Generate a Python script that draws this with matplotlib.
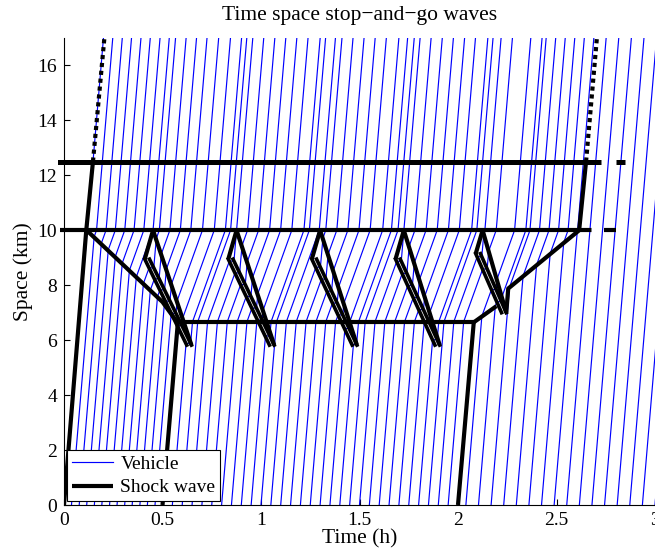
import numpy as np
import matplotlib.pyplot as plt

plt.rcParams['font.family'] = ['Liberation Serif', 'DejaVu Serif']

# vehicle entry times at the upstream end, s = 0 (h)
entry_a = [0.000, 0.038, 0.077, 0.115, 0.154, 0.192, 0.231, 0.269, 0.308,
           0.346, 0.385, 0.423, 0.462]
entry_b = [0.50, 0.55, 0.60, 0.65, 0.70, 0.75, 0.80, 0.85, 0.90, 0.95,
           1.00, 1.05, 1.10, 1.15, 1.20, 1.25, 1.30, 1.35, 1.40, 1.45,
           1.50, 1.55, 1.60, 1.65, 1.70, 1.75, 1.80, 1.85, 1.90, 1.95]
entry_c = [2.040, 2.104, 2.168, 2.232, 2.296, 2.360, 2.424, 2.488, 2.552,
           2.616, 2.680, 2.744, 2.808, 2.872, 2.936, 3.000]

v_free = 85.0    # km/h
v_queue = 20.0   # km/h inside the congested area
bottleneck_s = 10.0

# congested area
queue_left_t = [0.575, 0.50, 0.115]
queue_left_s = [6.65, 7.39, 10.0]
queue_bottom_s = 6.65
queue_right_t = [2.08, 2.19, 2.255, 2.615]
queue_right_s = [6.65, 7.22, 7.88, 10.0]
# queue tail drawn as two pieces around the last wave
tail_low_t = [2.08, 2.195]
tail_low_s = [6.65, 7.24]
tail_up_t = [2.245, 2.255, 2.615]
tail_up_s = [7.00, 7.88, 10.0]

# stop-and-go waves: top vertex (on s=10), left vertex, bottom vertex
wave_top_t = [0.452, 0.876, 1.300, 1.725, 2.125]
wave_left_t = [0.410, 0.834, 1.258, 1.683, 2.090]
wave_left_s = [8.95, 8.95, 8.95, 8.95, 9.15]
wave_bot_t = [0.647, 1.067, 1.487, 1.907, 2.245]
wave_bot_s = [5.82, 5.82, 5.82, 5.82, 7.00]
band_w = 0.024

# other shock waves
lead_t = [0.0, 0.113, 0.147]
lead_s = [0.0, 10.0, 12.5]
lead_dot_t = [0.147, 0.205]
lead_dot_s = [12.5, 17.0]
last_t = [2.615, 2.650]
last_s = [10.0, 12.5]
last_dot_t = [2.650, 2.705]
last_dot_s = [12.5, 17.0]
demand1_t = [0.500, 0.578]
demand1_s = [0.0, 6.65]
demand2_t = [2.000, 2.080]
demand2_s = [0.0, 6.65]
line10_t = [-0.02, 2.615]
line10_dash_t = [2.615, 2.80]
line125_t = [-0.02, 2.650]
line125_dash_t = [2.650, 2.85]


def speed(t, s):
    v = np.full_like(s, v_free)
    tl = np.interp(s, queue_left_s, queue_left_t)
    tr = np.interp(s, queue_right_s, queue_right_t)
    inq = (s >= queue_bottom_s) & (s < bottleneck_s) & (t >= tl) & (t <= tr)
    v[inq] = v_queue
    for k in range(len(wave_top_t)):
        tt, tlk, slk = wave_top_t[k], wave_left_t[k], wave_left_s[k]
        tb, sb = wave_bot_t[k], wave_bot_s[k]
        edge = tt + (bottleneck_s - s) / (bottleneck_s - sb) * (tb - tt)
        frac = (slk - s) / (slk - sb)
        b_left = tlk + frac * (tb - band_w - tlk)
        b_right = b_left + band_w
        low = (s >= sb) & (s < slk)
        band = low & (t >= b_left) & (t < b_right)
        inner = low & (t >= b_right) & (t < edge)
        t_tl = tt - (bottleneck_s - s) / (bottleneck_s - slk) * (tt - tlk)
        upper = (s >= slk) & (s < bottleneck_s) & (t > t_tl) & (t < edge)
        v[inner | upper] = v_free
        v[band] = 0.0
    return v


t0 = np.array(entry_a + entry_b + entry_c)
dt = 0.0004
tgrid = np.arange(0, 3.06, dt)
pos = np.zeros(len(t0))
traj = np.full((len(tgrid), len(t0)), np.nan)
for i, t in enumerate(tgrid):
    on = t >= t0
    if on.any():
        traj[i, on] = pos[on]
        pos[on] += speed(t, pos[on]) * dt

fig = plt.figure(figsize=(6.55, 5.54), dpi=100)
ax = fig.add_axes([64 / 655, 49 / 554, 591 / 655, 467 / 554])

for j in range(len(t0)):
    m = ~np.isnan(traj[:, j]) & (traj[:, j] <= 17.5)
    ax.plot(tgrid[m], traj[m, j], color='blue', lw=0.85,
            label='Vehicle' if j == 0 else None)

sk = dict(color='black', lw=3.0, solid_capstyle='butt')
ax.plot(lead_t, lead_s, label='Shock wave', **sk)
ax.plot(lead_dot_t, lead_dot_s, color='black', lw=3.0, dashes=(1.0, 0.9))
ax.plot(last_t, last_s, **sk)
ax.plot(last_dot_t, last_dot_s, color='black', lw=3.0, dashes=(1.0, 0.9))
ax.plot(demand1_t, demand1_s, **sk)
ax.plot(demand2_t, demand2_s, **sk)
ax.plot(line10_t, [10, 10], clip_on=False, **sk)
ax.plot(line10_dash_t, [10, 10], color='black', lw=3.0, dashes=(3, 3))
ax.plot(line125_t, [12.5, 12.5], clip_on=False, color='black', lw=3.6)
ax.plot(line125_dash_t, [12.5, 12.5], color='black', lw=3.6, dashes=(3, 3))

# congested area outline
ax.plot(queue_left_t[::-1], queue_left_s[::-1], **sk)
ax.plot([queue_left_t[0], queue_right_t[0]], [queue_bottom_s] * 2, **sk)
ax.plot(tail_low_t, tail_low_s, **sk)
ax.plot(tail_up_t, tail_up_s, **sk)

for k in range(len(wave_top_t)):
    tt, tlk, slk = wave_top_t[k], wave_left_t[k], wave_left_s[k]
    tb, sb = wave_bot_t[k], wave_bot_s[k]
    ax.plot([tt, tlk], [10, slk], **sk)
    ax.plot([tt, tb], [10, sb], **sk)
    ax.plot([tlk, tb - band_w], [slk, sb], color='black', lw=2.6)
    ax.plot([tlk + band_w, tb], [slk, sb], color='black', lw=2.6)

ax.set_xlim(0, 3)
ax.set_ylim(0, 17)
ax.set_xticks([0, 0.5, 1, 1.5, 2, 2.5, 3])
ax.set_xticklabels(['0', '0.5', '1', '1.5', '2', '2.5', '3'])
ax.set_yticks(range(0, 17, 2))
ax.tick_params(direction='in', length=4, labelsize=14, pad=5)
for side in ['top', 'right']:
    ax.spines[side].set_visible(False)
ax.set_xlabel('Time (h)', fontsize=15.5, labelpad=0)
ax.set_ylabel('Space (km)', fontsize=15.5, labelpad=3)
ax.set_title('Time space stop\u2212and\u2212go waves', fontsize=15.5, pad=13)

leg = ax.legend(loc='lower left', bbox_to_anchor=(0.005, 0.008), fontsize=14,
                fancybox=False, framealpha=1, edgecolor='black',
                handlelength=2.1, borderpad=0.25, labelspacing=0.3,
                handletextpad=0.4, borderaxespad=0)
leg.get_frame().set_linewidth(0.8)

fig.savefig('out.png', dpi=100)
